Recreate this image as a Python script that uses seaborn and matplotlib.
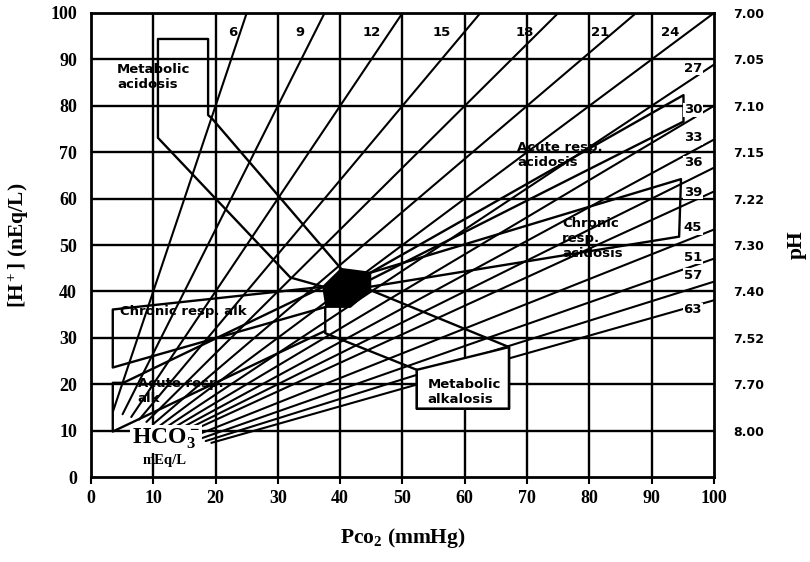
import matplotlib
matplotlib.use("Agg")
import matplotlib.pyplot as plt
import pandas as pd
import seaborn as sns

# bicarbonate isopleths (mEq/L)
hco3 = [6, 9, 12, 15, 18, 21, 24, 27, 30, 33, 36, 39, 45, 51, 57, 63]
top_labels = ["6", "9", "12", "15", "18", "21", "24"]
top_label_x = [22.8, 33.5, 45, 56.3, 69.7, 81.7, 92.9]
right_labels = ["27", "30", "33", "36", "39", "45", "51", "57", "63"]
right_label_y = [88.1, 79.1, 73.1, 67.7, 61.4, 53.7, 47.4, 43.5, 36.0]

# pH scale on the right, at the [H+] grid lines
h_ticks = [100, 90, 80, 70, 60, 50, 40, 30, 20, 10]
ph_labels = ["7.00", "7.05", "7.10", "7.15", "7.22", "7.30", "7.40", "7.52", "7.70", "8.00"]

# region outlines (Pco2, [H+])
normal = [(40.2, 44.8), (44.8, 44.0), (44.8, 40.3), (41.6, 36.7), (37.8, 36.7), (37.3, 41.0)]
met_acid = [(40.2, 44.8), (19.4, 77.3), (18.8, 78.0), (18.8, 94.4), (10.75, 94.4),
            (10.75, 73.1), (32.0, 43.0), (37.3, 41.0)]
met_alk = [(44.8, 40.3), (67.1, 28.0), (67.1, 14.7), (52.3, 14.7), (52.3, 23.1),
           (37.6, 31.0), (37.6, 36.7)]
met_alk_box = [(52.3, 23.1), (67.1, 28.0), (67.1, 14.7), (52.3, 14.7)]
acute_acid = [(44.8, 44.0), (95.1, 82.3), (95.1, 76.6), (44.8, 42.5)]
chronic_acid = [(44.8, 44.0), (94.7, 64.2), (94.4, 51.8), (44.8, 41.0)]
chronic_alk = [(37.3, 41.0), (3.5, 36.1), (3.5, 23.6), (37.8, 36.7)]
acute_alk = [(37.3, 41.0), (5.2, 20.3), (3.5, 20.3), (3.5, 9.8), (37.6, 31.5)]

# isopleths: [H+] = 24 * Pco2 / HCO3, clipped to the frame
rows = []
for h in hco3:
    k = 24.0 / h
    p0 = 15.73 / (k + 0.433)
    p1 = min(100.0, 100.0 / k)
    rows.append({"hco3": h, "pco2": p0, "h": k * p0})
    rows.append({"hco3": h, "pco2": p1, "h": k * p1})
df = pd.DataFrame(rows)

sns.set_style("white")
plt.rcParams.update({"text.color": "black", "axes.labelcolor": "black",
                     "xtick.color": "black", "ytick.color": "black"})
fig = plt.figure(figsize=(8.1, 5.62), dpi=100)
ax = fig.add_axes([0.1123, 0.1512, 0.7692, 0.8257])

for v in range(10, 100, 10):
    ax.axhline(v, color="black", lw=1.7, zorder=1)
    ax.axvline(v, color="black", lw=1.7, zorder=1)

sns.lineplot(data=df, x="pco2", y="h", units="hco3", estimator=None, sort=False,
             color="black", lw=1.5, ax=ax, zorder=2)


def outline(pts, closed=False, fill=None):
    xs = [p[0] for p in pts]
    ys = [p[1] for p in pts]
    if fill:
        ax.fill(xs, ys, color=fill, zorder=3, lw=0)
    if closed:
        xs, ys = xs + xs[:1], ys + ys[:1]
    ax.plot(xs, ys, color="black", lw=1.7, zorder=4)


outline(met_alk_box, closed=True, fill="white")
outline(met_acid)
outline(met_alk)
outline(acute_acid)
outline(chronic_acid)
outline(chronic_alk)
outline(acute_alk)
outline(normal, closed=True, fill="black")

lab = dict(fontsize=9.5, fontweight="heavy", family="DejaVu Sans", color="black", zorder=6)
ax.text(4.2, 86.2, "Metabolic\nacidosis", va="center", ha="left", linespacing=1.2, **lab)
ax.text(68.4, 69.4, "Acute resp.\nacidosis", va="center", ha="left", linespacing=1.2, **lab)
ax.text(75.6, 51.5, "Chronic\nresp.\nacidosis", va="center", ha="left", linespacing=1.2, **lab)
ax.text(4.6, 35.6, "Chronic resp. alk", va="center", ha="left", **lab)
ax.text(7.5, 18.6, "Acute resp.\nalk", va="center", ha="left", linespacing=1.2, **lab)
ax.text(54.0, 18.4, "Metabolic\nalkalosis", va="center", ha="left", linespacing=1.2, **lab)

for t, x in zip(top_labels, top_label_x):
    ax.text(x, 95.8, t, ha="center", va="center", **lab)
for t, y in zip(right_labels, right_label_y):
    ax.text(96.6, y, t, ha="center", va="center",
            bbox=dict(fc="white", ec="none", pad=0.6), **lab)

serif = dict(family="Liberation Serif", fontweight="bold", color="black")
ax.text(12.1, 8.2, "HCO$\\mathregular{_3^-}$", ha="center", va="center", fontsize=17,
        zorder=6, bbox=dict(fc="white", ec="none", pad=1.5), **serif)
ax.text(11.8, 3.5, "mEq/L", ha="center", va="center", fontsize=10.5, zorder=6, **serif)

ax.set_xlim(0, 100)
ax.set_ylim(0, 100)
ax.set_xticks(range(0, 101, 10))
ax.set_yticks(range(0, 101, 10))
ax.set_xticklabels([str(v) for v in range(0, 101, 10)], fontsize=13, **serif)
ax.set_yticklabels([str(v) for v in range(0, 101, 10)], fontsize=13, **serif)
ax.tick_params(axis="x", direction="out", length=5, width=1.5, pad=4, bottom=True)
ax.tick_params(axis="y", length=0, pad=10)
ax.set_xlabel("Pco$\\mathregular{_2}$ (mmHg)", fontsize=15.5, labelpad=14, **serif)
ax.set_ylabel("[H$\\mathregular{^+}$] (nEq/L)", fontsize=15.5, labelpad=14, **serif)
for s in ax.spines.values():
    s.set_visible(True)
    s.set_color("black")
    s.set_linewidth(2)

ax2 = ax.twinx()
ax2.set_ylim(0, 100)
ax2.set_yticks(h_ticks)
ax2.set_yticklabels(ph_labels, family="DejaVu Sans", fontweight="heavy", fontsize=9,
                    color="black")
ax2.tick_params(axis="y", length=0, pad=14)
ax2.set_ylabel("pH", fontsize=15.5, labelpad=16, **serif)
for s in ax2.spines.values():
    s.set_visible(False)

fig.savefig("out.png", dpi=100)
